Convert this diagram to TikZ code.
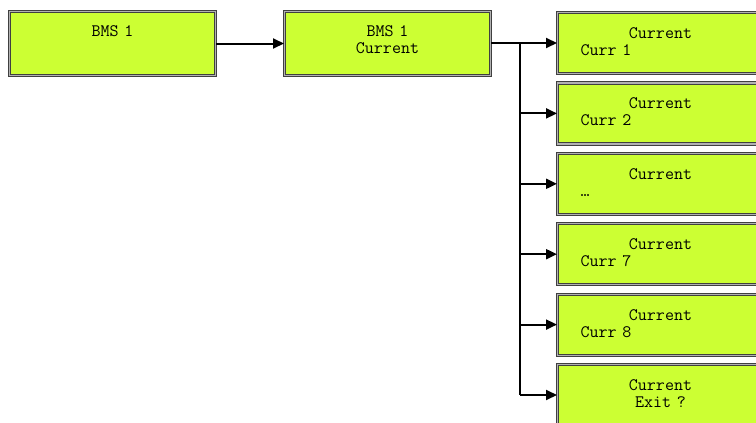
\documentclass[tikz,border=0pt]{standalone}
\usepackage{fontspec}
\usetikzlibrary{arrows.meta}
\definecolor{lcdgreen}{HTML}{CCFF33}
\newcommand{\lcdfont}{\ttfamily\fontsize{17.5}{17}\selectfont}

\begin{document}
\begin{tikzpicture}[
    x=1pt, y=-1pt,
    every node/.style={font=\lcdfont},
    lcd/.style={draw=black!75, double=black!30, double distance=1.2pt, line width=1pt,
      fill=lcdgreen, anchor=north west, inner sep=0pt, minimum width=206pt,
      align=center, text width=160pt},
    conn/.style={line width=2pt},
    >={Triangle[length=11pt, width=10pt]},
  ]
  \useasboundingbox (0,0) rectangle (756,423);

  % menu entry and its submenu
  \node[lcd, text height=25pt, text depth=39pt] (bms) at (9,11) {BMS 1};
  \node[lcd, text height=25pt, text depth=39pt] (bmscur) at (284,11) {BMS 1\\Current};
  \draw[conn, ->] (bms.east) -- (bmscur.west);

  % current readings
  \foreach \val [count=\i] in {Curr 1, Curr 2, …, Curr 7, Curr 8}
    \node[lcd, text height=26pt, text depth=35pt] (cur\i) at (557, {12+70.4*(\i-1)})
      {Current\\\leftline{\val}};
  \node[lcd, text height=26pt, text depth=35pt] (exit) at (557, 364) {Current\\Exit ?};

  % branch
  \coordinate (split) at (520, 42.5);
  \draw[conn] (bmscur.east |- split) -- (split) -- (split |- exit.west);
  \foreach \n in {cur1, cur2, cur3, cur4, cur5, exit}
    \draw[conn, ->] (split |- \n.west) -- (\n.west);
\end{tikzpicture}
\end{document}
